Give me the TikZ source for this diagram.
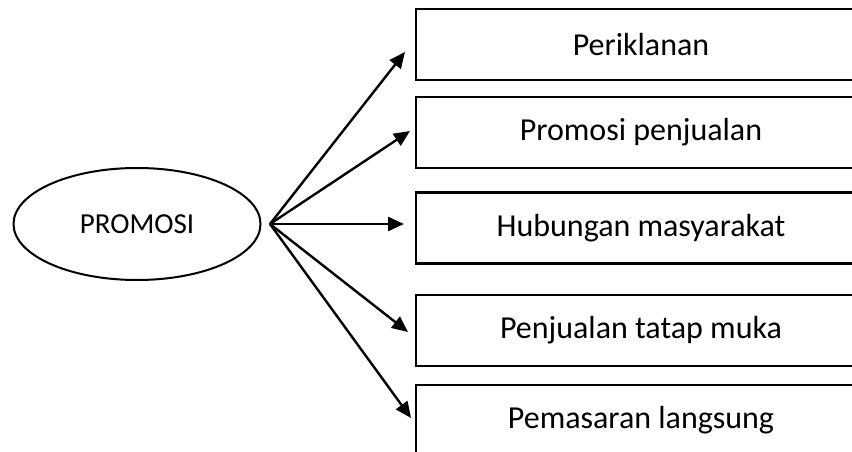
\documentclass[tikz,border=0pt]{standalone}
\usepackage{fontspec}
\setmainfont{Carlito}
\usetikzlibrary{shapes.geometric,arrows.meta}
\begin{document}
\begin{tikzpicture}[x=1pt,y=-1pt,
  boxstyle/.style={draw,line width=2.8pt,minimum width=450pt,minimum height=71pt,inner sep=0pt,font=\fontsize{32}{36}\selectfont},
  ellstyle/.style={draw,ellipse,line width=2pt,minimum width=247pt,minimum height=112pt,inner sep=0pt,font=\fontsize{29}{33}\selectfont},
  arr/.style={line width=2.4pt,-{Triangle[length=16pt,width=14pt]}}]
\clip (0,0) rectangle (852,452);
\useasboundingbox (0,0) rectangle (852,452);
\node[ellstyle] (p) at (137,224) {PROMOSI};
\node[boxstyle] (b1) at (641,44.5) {Periklanan};
\node[boxstyle] (b2) at (641,132.5) {Promosi penjualan};
\node[boxstyle] (b3) at (641,228) {Hubungan masyarakat};
\node[boxstyle] (b4) at (641,330.5) {Penjualan tatap muka};
\node[boxstyle] (b5) at (641,420.5) {Pemasaran langsung};
\coordinate (o) at (270,224);
\coordinate (t1) at (405,52);
\coordinate (t2) at (410,131);
\coordinate (t3) at (404,224);
\coordinate (t4) at (408,332);
\coordinate (t5) at (411,418);
\foreach \t in {t1,t2,t3,t4,t5} \draw[arr] (o) -- (\t);
\end{tikzpicture}
\end{document}
